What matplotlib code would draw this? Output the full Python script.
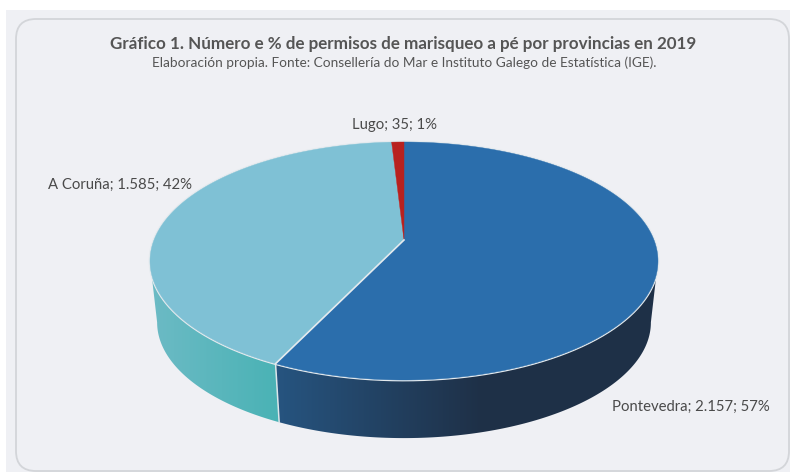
import numpy as np
import matplotlib
matplotlib.use("Agg")
import matplotlib.pyplot as plt
from matplotlib.patches import FancyBboxPatch, Rectangle, Polygon

provinces = ["Pontevedra", "A Coruña", "Lugo"]
permits = [2157, 1585, 35]
permit_labels = ["2.157", "1.585", "35"]
percent_labels = ["57%", "42%", "1%"]
top_colors = ["#2B6EAC", "#7FC1D5", "#B8211F"]
side_left = [(0.15, 0.33, 0.50), (0.42, 0.73, 0.77), (0.5, 0.1, 0.1)]
side_right = [(0.12, 0.19, 0.28), (0.29, 0.70, 0.71), (0.5, 0.1, 0.1)]
shade_span = [(277, 480), (155, 277), (390, 405)]
label_pos = [(612, 407, "left"), (192, 185, "right"), (394, 124.5, "center")]

plt.rcParams["font.family"] = ["Lato", "DejaVu Sans"]
W, H = 790, 472
fig = plt.figure(figsize=(W / 100, H / 100), dpi=100, facecolor="white")
ax = fig.add_axes([0, 0, 1, 1])

BG = "#EFF0F4"
ax.add_patch(Rectangle((6, 10), W - 6, H - 10, fc=BG, ec="none"))
ax.add_patch(FancyBboxPatch((16 + 20, 19 + 20), W - 1 - 16 - 40, H - 1 - 19 - 40,
                            boxstyle="round,pad=20,rounding_size=20",
                            fc=BG, ec="#D3D5D9", lw=1.3))


def project(theta):
    """Clockwise angle from the top of the disc to the perspective top rim."""
    k, a, b, cx, cy = 0.1765, 250.0, 115.3, 404.0, 240.0
    u, v = np.sin(theta), -np.cos(theta)
    w = 1 - k * v
    return cx + a * u / w, cy + b * v / w


def lower(x, y):
    s = 0.972
    return 404 + s * (x - 404), s * (y - 240) + 302


edges = np.concatenate([[0], np.cumsum(permits)]) / np.sum(permits) * 2 * np.pi

# front-facing part of the wall runs between the rim's horizontal extremes
circle = np.linspace(0, 2 * np.pi, 3600)
circle_x = project(circle)[0]
front_start, front_end = circle[np.argmax(circle_x)], circle[np.argmin(circle_x)]

# side wall: horizontal gradient clipped to each slice's wall outline
xs = np.arange(140, 670, 1.0)
for i in range(len(permits)):
    start, end = max(edges[i], front_start), min(edges[i + 1], front_end)
    if end <= start:
        continue
    th = np.linspace(start, end, 500)
    x, y = project(th)
    xb, yb = lower(x, y)
    outline = Polygon(np.c_[np.r_[x, xb[::-1]], np.r_[y, yb[::-1]]], closed=True,
                      fc="none", ec="none", transform=ax.transData)
    ax.add_patch(outline)
    t = np.clip((xs - shade_span[i][0]) / (shade_span[i][1] - shade_span[i][0]), 0, 1)
    rgb = np.outer(1 - t, side_left[i]) + np.outer(t, side_right[i])
    im = ax.imshow(rgb[np.newaxis, :, :], extent=(140, 670, 450, 130), aspect="auto",
                   interpolation="bilinear", zorder=2)
    im.set_clip_path(outline)

ax.set_xlim(0, W)
ax.set_ylim(H, 0)
ax.axis("off")

# light line at the Pontevedra/A Coruña wall boundary
xe, ye = project(edges[1])
xeb, yeb = lower(xe, ye)
ax.plot([xe, xeb], [ye, yeb], color="#DCE6EA", lw=1.1, zorder=3)

# top faces
full_x, full_y = project(np.linspace(0, 2 * np.pi, 720))
ax.plot(full_x, full_y, color="#E4EAEE", lw=2.0, zorder=3)
cx0, cy0 = 404.0, 240.0
for i, c in enumerate(top_colors):
    th = np.linspace(edges[i], edges[i + 1], 300)
    x, y = project(th)
    ax.fill(np.r_[cx0, x], np.r_[cy0, y], fc=c, ec=c, lw=0.3, zorder=4)
xe, ye = project(edges[1])
ax.plot([cx0, xe], [cy0, ye], color="#E4EAEE", lw=1.2, zorder=5)

TXT = "#4A4A4A"
for name, n, pct, (px, py, ha) in zip(provinces, permit_labels, percent_labels, label_pos):
    ax.text(px, py, f"{name}; {n}; {pct}", ha=ha, va="center", fontsize=10.7, color=TXT, zorder=6)

ax.text(403, 44.5, "Gráfico 1. Número e % de permisos de marisqueo a pé por provincias en 2019",
        ha="center", va="center", fontsize=12.25, fontweight="bold", color="#555555")
ax.text(404, 63, "Elaboración propia. Fonte: Consellería do Mar e Instituto Galego de Estatística (IGE).",
        ha="center", va="center", fontsize=9.8, color="#555555")

fig.savefig("out.png", dpi=100, facecolor="white")
